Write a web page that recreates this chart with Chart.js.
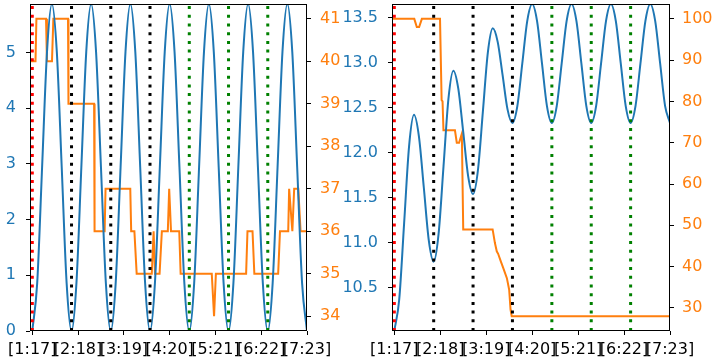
<!DOCTYPE html>
<html>
<head>
<meta charset="utf-8">
<script src="https://cdn.jsdelivr.net/npm/chart.js@4.4.1/dist/chart.umd.min.js"></script>
<style>
  html, body { margin: 0; padding: 0; background: #ffffff; }
  #wrap { position: relative; width: 720px; height: 360px; overflow: hidden; }
  #c1 { position: absolute; left: 0; top: 0; }
  #c2 { position: absolute; left: 335px; top: 0; }
</style>
</head>
<body>
<div id="wrap">
  <canvas id="c1" width="360" height="360"></canvas>
  <canvas id="c2" width="385" height="360"></canvas>
</div>
<script>
// x ticks (shared by both panels)
const tickPos    = [0, 1, 2, 3, 4, 5, 6];
const tickLabels = ['[1:17]', '[2:18]', '[3:19]', '[4:20]', '[5:21]', '[6:22]', '[7:23]'];

// vertical markers
const redMarks   = [0];
const blackMarks = [0.857, 1.714, 2.571];
const greenMarks = [3.429, 4.286, 5.143];

// blue wave, one sample every waveStep
const waveStep = 0.10714;
const waveLeft = [
  0, 0.86, 2.94, 5.01, 5.87, 5.01, 2.94, 0.86,
  0, 0.86, 2.94, 5.01, 5.87, 5.01, 2.94, 0.86,
  0, 0.86, 2.94, 5.01, 5.87, 5.01, 2.94, 0.86,
  0, 0.86, 2.94, 5.01, 5.87, 5.01, 2.94, 0.86,
  0, 0.86, 2.94, 5.01, 5.87, 5.01, 2.94, 0.86,
  0, 0.86, 2.94, 5.01, 5.87, 5.01, 2.94, 0.86,
  0, 0.86, 2.94, 5.01, 5.87, 5.01, 2.94, 0.86,
  0
];
const waveRight = [
  10.02, 10.37, 11.22, 12.07, 12.42,
  12.18, 11.61, 11.03, 10.79,
  11.10, 11.85, 12.60, 12.91,
  12.71, 12.23, 11.74, 11.54,
  11.81, 12.46, 13.11, 13.38,
  13.23, 12.86, 12.48, 12.33,
  12.52, 12.99, 13.46, 13.65,
  13.46, 12.99, 12.52, 12.33,
  12.52, 12.99, 13.46, 13.65,
  13.46, 12.99, 12.52, 12.33,
  12.52, 12.99, 13.46, 13.65,
  13.46, 12.99, 12.52, 12.33,
  12.52, 12.99, 13.46, 13.65,
  13.46, 12.99, 12.52, 12.33
];

// orange step series
const stepLeftX = [-0.05, 0.07, 0.09, 0.30, 0.32, 0.43, 0.46, 0.78, 0.79, 1.35, 1.36, 1.58, 1.60,
  2.14, 2.16, 2.23, 2.28, 2.61, 2.65, 2.68, 2.78, 2.83, 2.96, 2.99, 3.03, 3.21, 3.24,
  3.92, 3.97, 4.01, 4.67, 4.70, 4.81, 4.85, 5.37, 5.41, 5.59, 5.61, 5.68, 5.72, 5.81, 5.86, 6.0];
const stepLeftY = [40, 40, 41, 41, 40, 40, 41, 41, 39, 39, 36, 36, 37,
  37, 36, 36, 35, 35, 36, 35, 35, 36, 36, 37, 36, 36, 35,
  35, 34, 35, 35, 36, 36, 35, 35, 36, 36, 37, 36, 37, 37, 36, 36];
const stepRightX = [-0.05, 0.435, 0.49, 0.54, 0.60, 0.995, 1.03, 1.05, 1.07, 1.32, 1.36, 1.41, 1.47,
  1.50, 1.54, 2.14, 2.19, 2.23, 2.26, 2.32, 2.37, 2.45, 2.50, 2.53, 2.555, 6.0];
const stepRightY = [100, 100, 98, 98, 100, 100, 80.3, 80, 73, 73, 70, 70, 72.2,
  49, 49, 49, 45.7, 43.7, 43.1, 41.2, 39.7, 37.2, 34.4, 29.6, 28, 28];

// y ticks
const leftTicks1  = [0, 1, 2, 3, 4, 5];
const rightTicks1 = [34, 35, 36, 37, 38, 39, 40, 41];
const leftTicks2  = [10.5, 11.0, 11.5, 12.0, 12.5, 13.0, 13.5];
const rightTicks2 = [30, 40, 50, 60, 70, 80, 90, 100];

const BLUE = '#1f77b4';
const ORANGE = '#ff7f0e';

Chart.defaults.font.family = 'DejaVu Sans';
Chart.defaults.font.size = 16;
Chart.defaults.color = '#000000';

//plugin [frameBox] - black frame round the plot area
const frameBox = {
    id: 'frameBox',
    afterDraw: (chart) => {
        const {ctx, chartArea: {top, bottom, left, right}} = chart;
        ctx.save();
        ctx.strokeStyle = '#000000';
        ctx.lineWidth = 1;
        ctx.strokeRect(Math.round(left) + 0.5, Math.round(top) + 0.5,
                       Math.round(right - left) - 1, Math.round(bottom - top) - 1);
        ctx.restore();
    }
}

//plugin [markLines] - dotted vertical markers
const markLines = {
    id: 'markLines',
    afterDatasetsDraw: (chart) => {
        const {ctx, chartArea: {top, bottom}, scales: {x}} = chart;
        const groups = [[redMarks, '#ff0000'], [blackMarks, '#000000'], [greenMarks, '#008000']];
        ctx.save();
        ctx.lineWidth = 3;
        ctx.setLineDash([3, 5.7]);
        groups.forEach(([marks, color]) => {
            ctx.strokeStyle = color;
            marks.forEach(v => {
                const px = x.getPixelForValue(v);
                ctx.beginPath();
                ctx.moveTo(px, bottom);
                ctx.lineTo(px, top);
                ctx.stroke();
            });
        });
        ctx.restore();
    }
}

// no extra room for edge labels, the plot area is fixed
const noPad = s => {
    s.paddingTop = 0; s.paddingBottom = 0;
    s.paddingLeft = 0; s.paddingRight = 0;
};

function yAxis(pos, min, max, ticks, color, width, pad, digits) {
    return {
        type: 'linear',
        position: pos,
        min: min,
        max: max,
        border: {display: false},
        grid: {drawOnChartArea: false, color: '#000000', tickLength: 4, lineWidth: 1},
        ticks: {
            color: color,
            padding: pad,
            callback: v => digits ? v.toFixed(digits) : String(v)
        },
        afterBuildTicks: s => { s.ticks = ticks.map(v => ({value: v})); },
        afterFit: s => { s.width = width; noPad(s); }
    };
}

function panel(canvasId, wave, sx, sy, yl, yr) {
    return new Chart(document.getElementById(canvasId), {
        type: 'line',
        data: {
            datasets: [{
                data: wave.map((v, i) => ({x: i * waveStep, y: v})),
                yAxisID: 'yL',
                borderColor: BLUE,
                borderWidth: 2,
                pointRadius: 0,
                cubicInterpolationMode: 'monotone'
            }, {
                data: sx.map((v, i) => ({x: v, y: sy[i]})),
                yAxisID: 'yR',
                borderColor: ORANGE,
                borderWidth: 2,
                pointRadius: 0,
                tension: 0
            }]
        },
        options: {
            responsive: false,
            animation: false,
            layout: {padding: {top: 4, left: 0, right: 0, bottom: 0}},
            scales: {
                x: {
                    type: 'linear',
                    min: -0.05,
                    max: 6.0,
                    border: {display: false},
                    grid: {drawOnChartArea: false, color: '#000000', tickLength: 4, lineWidth: 1},
                    ticks: {
                        autoSkip: false,
                        maxRotation: 0,
                        padding: 5,
                        callback: v => tickLabels[tickPos.indexOf(v)]
                    },
                    afterBuildTicks: s => { s.ticks = tickPos.map(v => ({value: v})); },
                    afterFit: s => { s.height = 29; noPad(s); }
                },
                yL: yl,
                yR: yr
            },
            plugins: {
                legend: {display: false},
                tooltip: {enabled: false}
            }
        },
        plugins: [markLines, frameBox]
    });
}

panel('c1', waveLeft, stepLeftX, stepLeftY,
      yAxis('left', 0, 5.87, leftTicks1, BLUE, 30, 10, 0),
      yAxis('right', 33.65, 41.35, rightTicks1, ORANGE, 53, 9, 0));

panel('c2', waveRight, stepRightX, stepRightY,
      yAxis('left', 10.02, 13.65, leftTicks2, BLUE, 57, 10, 1),
      yAxis('right', 24.4, 103.6, rightTicks2, ORANGE, 50, 8, 0));
</script>
</body>
</html>
